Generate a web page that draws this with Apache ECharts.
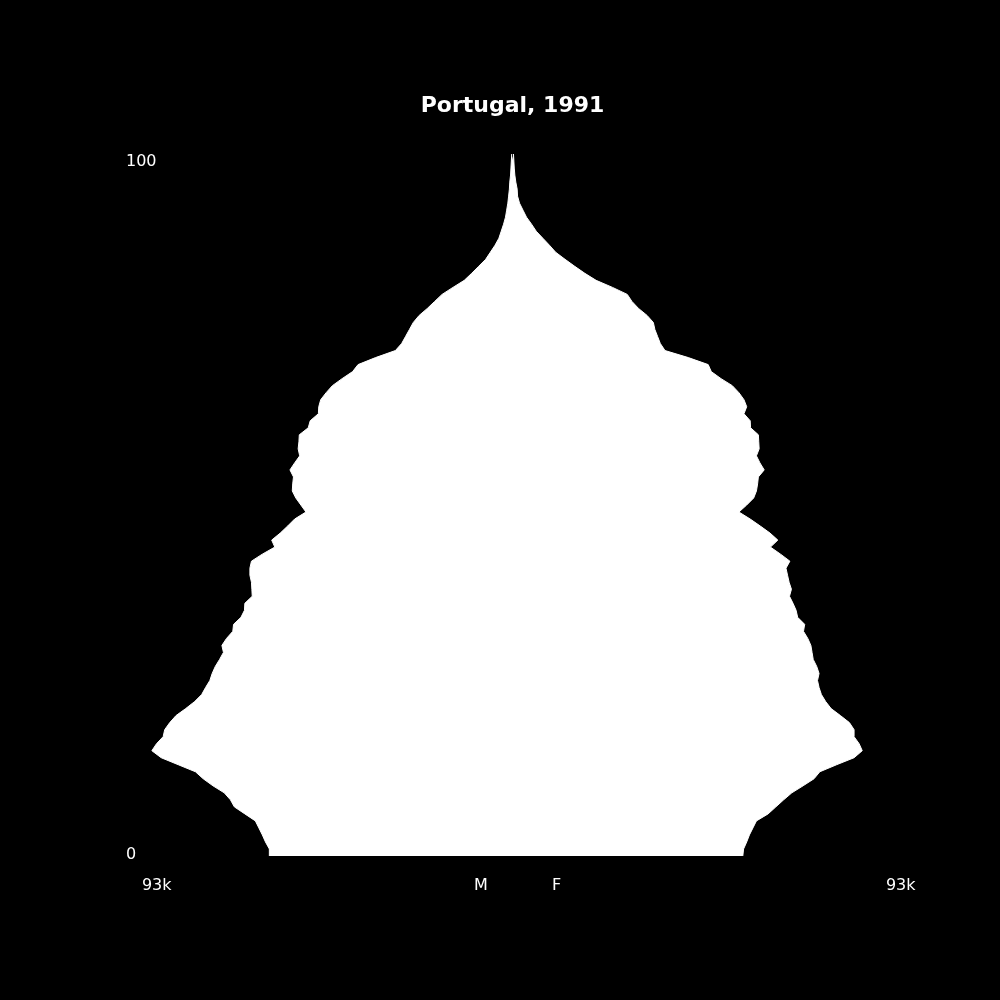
<!DOCTYPE html>
<html>
<head>
<meta charset="utf-8">
<script src="https://cdn.jsdelivr.net/npm/echarts@6/dist/echarts.min.js"></script>
<style>
html,body{margin:0;padding:0;background:#000;}
#chart{width:1000px;height:1000px;}
</style>
</head>
<body>
<div id="chart"></div>
<script>
const titleText = 'Portugal, 1991';
const ages = [];
for (let i = 0; i <= 100; i++) ages.push(String(i));
// population in thousands, by single year of age 0..100
const male = [62.5,62.5,63.5,64.3,65.2,66.1,68.8,71.5,72.5,74.1,
  77.0,79.5,81.5,85.9,90.3,92.7,91.5,89.8,89.4,88.1,
  86.5,84.0,81.7,79.9,78.9,77.8,77.2,76.4,75.3,74.3,
  74.7,73.5,71.9,71.7,69.8,68.9,68.8,66.9,67.0,67.1,
  67.5,67.5,67.1,64.3,61.1,61.9,59.7,57.8,56.0,53.1,
  54.4,55.7,56.6,56.5,56.3,57.2,56.0,54.7,55.1,54.9,
  54.8,52.5,52.0,49.9,49.8,49.3,47.9,46.3,43.8,41.1,
  39.7,35.2,30.1,28.5,27.5,26.5,25.5,24.0,21.9,20.0,
  18.1,15.3,12.4,10.5,8.7,6.9,5.7,4.5,3.5,2.9,
  2.3,1.8,1.5,1.2,1.0,0.8,0.7,0.5,0.4,0.3,0.2];
const female = [59.2,59.4,60.2,60.9,61.8,62.7,65.7,67.7,69.7,71.8,
  74.7,77.5,79.0,83.3,87.8,89.9,89.1,87.8,87.8,86.6,
  84.3,81.9,80.5,79.4,78.8,78.4,78.8,78.2,77.3,77.0,
  76.7,75.9,74.8,75.1,73.3,72.9,72.1,71.2,71.7,71.1,
  70.7,70.3,71.3,68.9,66.3,68.2,66.2,63.7,61.1,58.2,
  60.2,62.0,62.7,63.0,63.2,64.7,63.6,62.7,63.4,63.3,
  63.2,61.2,61.1,59.5,60.2,59.5,58.2,56.5,53.6,51.1,
  50.3,45.2,39.2,38.0,37.3,36.6,36.2,34.6,32.4,30.7,
  29.5,25.7,21.5,18.6,16.0,13.5,11.1,9.5,7.8,6.1,
  4.9,3.6,2.7,1.8,1.3,1.2,0.85,0.6,0.45,0.35,0.25];
const xMax = 93;
const xTickLabels = ['93k', 'M', 'F', '93k'];
const yTickLabels = ['0', '100'];

const chart = echarts.init(document.getElementById('chart'), null, {renderer: 'canvas'});
const font = 'DejaVu Sans';
const txt = (text, x, y, align, size, weight) => ({
  type: 'text', x: x, y: y, silent: true,
  style: {text: text, fill: '#fff', fontFamily: font, fontSize: size, fontWeight: weight || 'normal',
          align: align, verticalAlign: 'middle'}
});
chart.setOption({
  backgroundColor: '#000',
  animation: false,
  grid: {left: 150.7, right: 125.7, top: 154, bottom: 144},
  xAxis: {type: 'value', min: -xMax, max: xMax, show: false},
  yAxis: {type: 'category', data: ages, boundaryGap: false, show: false},
  series: [
    {type: 'line', data: male.map(v => -v), symbol: 'none', smooth: false,
     lineStyle: {color: '#fff', width: 1}, itemStyle: {color: '#fff'},
     areaStyle: {color: '#fff', opacity: 1, origin: 0.12}},
    {type: 'line', data: female, symbol: 'none', smooth: false,
     lineStyle: {color: '#fff', width: 1}, itemStyle: {color: '#fff'},
     areaStyle: {color: '#fff', opacity: 1, origin: -0.12}}
  ],
  graphic: [
    txt(titleText, 512.5, 106, 'center', 22, 'bold'),
    txt(yTickLabels[1], 126, 161.5, 'left', 16),
    txt(yTickLabels[0], 126, 854.5, 'left', 16),
    txt(xTickLabels[0], 156.7, 886, 'center', 16),
    txt(xTickLabels[1], 481, 886, 'center', 16),
    txt(xTickLabels[2], 556.5, 886, 'center', 16),
    txt(xTickLabels[3], 900.7, 886, 'center', 16)
  ]
});
</script>
</body>
</html>
